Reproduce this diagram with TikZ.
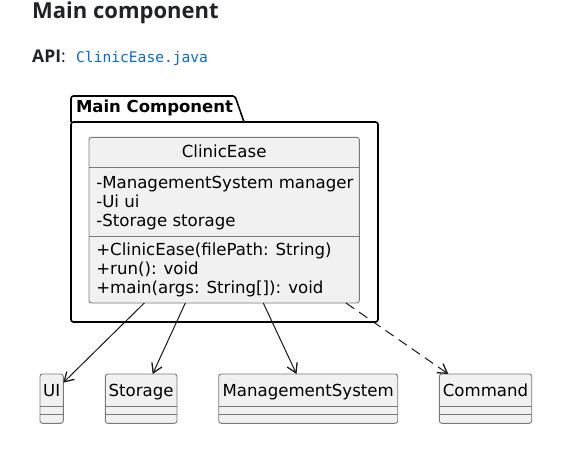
\documentclass[tikz,border=0pt]{standalone}
\usepackage{fontspec}
\setmainfont{DejaVu Sans}
\newfontfamily\titlefont{Open Sans}
\newfontfamily\codefont{DejaVu Sans Mono}
\usetikzlibrary{arrows.meta,calc}
\definecolor{txtdark}{HTML}{1F2328}
\definecolor{codeblue}{HTML}{0969DA}
\definecolor{clsfill}{HTML}{F1F1F1}
\definecolor{clsline}{HTML}{7A7A7A}
\definecolor{arrline}{HTML}{181818}
\tikzset{
  cls/.style={draw=clsline, fill=clsfill, line width=0.9pt, rounded corners=2.5pt,
    inner sep=0pt, outer sep=0pt, anchor=north west},
  divline/.style={draw=clsline, line width=0.9pt},
  umltext/.style={inner sep=0pt, outer sep=0pt, font=\fontsize{16.6}{19}\selectfont, text=black},
  pkgbox/.style={draw=black, line width=1.6pt, rounded corners=2.5pt, inner sep=0pt,
    outer sep=0pt, anchor=north west},
  assoc/.style={draw=arrline, line width=1pt, -{Straight Barb[length=9pt,width=11pt,line width=1.3pt]}},
  dep/.style={assoc, dash pattern=on 10pt off 6pt}
}
\begin{document}
\begin{tikzpicture}[x=1pt,y=-1pt]
\useasboundingbox[fill=white] (0,0) rectangle (568,455);
% header texts
\node[anchor=base west, inner sep=0pt, text=txtdark, font=\titlefont\bfseries\fontsize{22}{26}\selectfont] (title) at (32,18.3) {Main component};
\node[anchor=base west, inner sep=0pt, text=txtdark, font=\titlefont\fontsize{17.5}{20}\selectfont] (api) at (32,62.3) {\textbf{API}:};
\node[anchor=base west, inner sep=0pt, text=codeblue, font=\codefont\fontsize{14.6}{18}\selectfont] (apifile) at (76,62.3) {ClinicEase.java};
% package
\draw[draw=black, line width=1.6pt, rounded corners=2.5pt]
  (71,122) -- (71,96) -- (235,96) -- (244,122);
\node[pkgbox, minimum width=307pt, minimum height=200pt] (pkg) at (71,122) {};
\node[umltext, anchor=base west, font=\bfseries\fontsize{16.5}{19}\selectfont] (pkgname) at (76,112.7) {Main Component};
% ClinicEase class
\node[cls, minimum width=270.3pt, minimum height=165.7pt] (clinic) at (89,137.3) {};
\draw[divline] ([yshift=-30.4pt]clinic.north west) -- ([yshift=-30.4pt]clinic.north east);
\draw[divline] ([yshift=-98.7pt]clinic.north west) -- ([yshift=-98.7pt]clinic.north east);
\node[umltext, anchor=base] (cname) at (224.2,157.7) {ClinicEase};
\node[umltext, anchor=base west] (a1) at (96.3,188.7) {-ManagementSystem manager};
\node[umltext, anchor=base west] (a2) at (96.3,207.7) {-Ui ui};
\node[umltext, anchor=base west] (a3) at (96.3,226.7) {-Storage storage};
\node[umltext, anchor=base west] (m1) at (96.3,255.3) {+ClinicEase(filePath: String)};
\node[umltext, anchor=base west] (m2) at (96.3,274) {+run(): void};
\node[umltext, anchor=base west] (m3) at (96.3,293) {+main(args: String[]): void};
% bottom classes
\node[cls, minimum width=23.3pt, minimum height=49.3pt] (ui) at (40,374) {};
\node[cls, minimum width=71.7pt, minimum height=49.3pt] (storage) at (105.3,374) {};
\node[cls, minimum width=179pt, minimum height=49.3pt] (ms) at (218.7,374) {};
\node[cls, minimum width=92.4pt, minimum height=49.3pt] (cmd) at (439.3,374) {};
\foreach \c in {ui,storage,ms,cmd}{
  \draw[divline] ([yshift=-32.5pt]\c.north west) -- ([yshift=-32.5pt]\c.north east);
  \draw[divline] ([yshift=-40.5pt]\c.north west) -- ([yshift=-40.5pt]\c.north east);
}
\node[umltext, anchor=base] (uiname) at ($(ui.north)+(0,22)$) {UI};
\node[umltext, anchor=base] (stname) at ($(storage.north)+(0,22)$) {Storage};
\node[umltext, anchor=base] (msname) at ($(ms.north)+(0,22)$) {ManagementSystem};
\node[umltext, anchor=base] (cmdname) at ($(cmd.north)+(0,22)$) {Command};
% connectors
\draw[assoc] ([xshift=55.3pt]clinic.south west) -- ([yshift=16pt]ui.east);
\draw[assoc] ([xshift=96.3pt]clinic.south west) -- ([xshift=11.5pt]storage.north);
\draw[assoc] ([xshift=174.3pt]clinic.south west) -- ([xshift=-11.7pt]ms.north);
\draw[dep] ([xshift=257pt]clinic.south west) -- ([xshift=-37.2pt]cmd.north);
\end{tikzpicture}
\end{document}
